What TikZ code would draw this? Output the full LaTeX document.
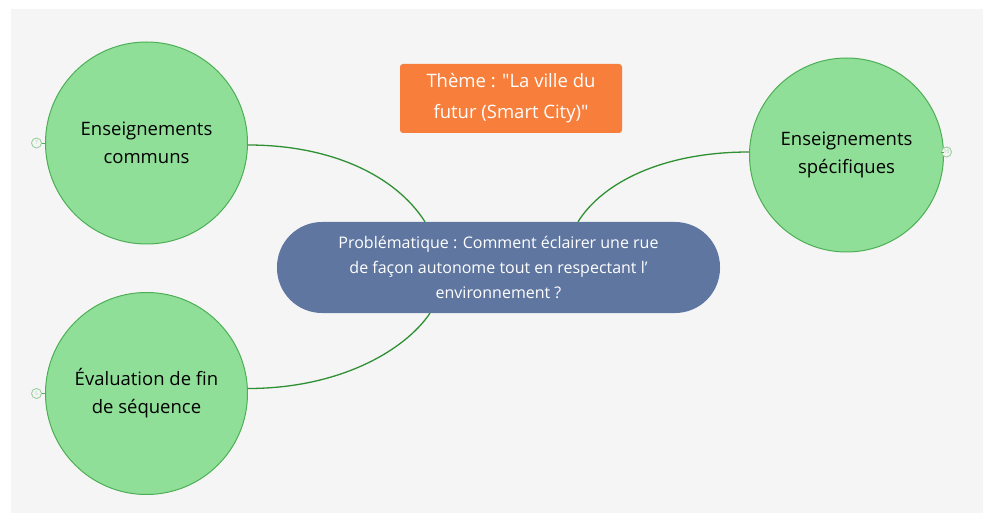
\documentclass[tikz,border=0pt]{standalone}
\usepackage{fontspec}
\setmainfont{Open Sans}
\usetikzlibrary{calc}
\definecolor{bggray}{HTML}{F5F5F5}
\definecolor{circfill}{HTML}{90DF98}
\definecolor{circline}{HTML}{4DAF55}
\definecolor{conn}{HTML}{2F8F33}
\definecolor{orangebox}{HTML}{F77E3B}
\definecolor{bluebox}{HTML}{5F76A1}
\definecolor{markline}{HTML}{9ACF9E}
\tikzset{
  topic/.style={circle, fill=circfill, draw=circline, line width=1pt, minimum size=202pt, inner sep=0pt, align=center, font=\fontsize{18.5}{28}\selectfont, text=black},
  connector/.style={draw=conn, line width=1.3pt},
  marker/.style={circle, draw=markline, fill=bggray, line width=0.9pt, minimum size=10pt, inner sep=0pt, font=\fontsize{5}{5}\selectfont, text=markline},
  markerline/.style={draw=circline, line width=0.8pt},
  themebox/.style={rectangle, rounded corners=3pt, fill=orangebox, minimum width=222pt, minimum height=69pt, align=center, text=white, font=\fontsize{18.5}{31}\selectfont},
  probbox/.style={rectangle, rounded corners=45pt, fill=bluebox, minimum width=443pt, minimum height=91pt, align=center, text=white, font=\fontsize{16}{25}\selectfont}
}
\begin{document}
\begin{tikzpicture}[x=1pt,y=-1pt]
\useasboundingbox (0,0) rectangle (983,513);
\fill[white] (0,0) rectangle (983,513);
\fill[bggray] (11,9) rectangle (983,513);

% central problem
\node[probbox] (prob) at (498.5,267.5) {Problématique : Comment éclairer une rue\\de façon autonome tout en respectant l'\\environnement ?};

% topics
\node[topic] (tl) at (146.5,143) {Enseignements\\communs};
\node[topic] (bl) at (146.5,393.5) {Évaluation de fin\\de séquence};
\node[topic, minimum size=194pt] (tr) at (846.5,155) {Enseignements\\spécifiques};

% theme
\node[themebox] (theme) at (511,98.5) {Thème : \textquotedbl La ville du\\futur (Smart City)\textquotedbl};

% connectors
\coordinate (pTL) at ([xshift=-73.5pt]prob.north);
\coordinate (pTR) at ([xshift=79.5pt]prob.north);
\coordinate (pBL) at ([xshift=-68.5pt]prob.south);
\coordinate (tlE) at ([yshift=-2pt]tl.east);
\coordinate (trW) at ([yshift=3pt]tr.west);
\coordinate (blE) at ([yshift=5pt]bl.east);
\draw[connector] (tlE) .. controls ($(tlE)+(82,0)$) and ($(pTL)+(-30,-47)$) .. (pTL);
\draw[connector] (trW) .. controls ($(trW)+(-85,0)$) and ($(pTR)+(25,-40)$) .. (pTR);
\draw[connector] (blE) .. controls ($(blE)+(92,0)$) and ($(pBL)+(-25,37)$) .. (pBL);

% markers
\node[marker] (m1) at (36.5,143) {7};
\node[marker] (m2) at (36.5,393.5) {5};
\node[marker] (m3) at (946.5,152) {10};
\draw[markerline] (m1) -- (tl.west);
\draw[markerline] (m2) -- (bl.west);
\draw[markerline] (m3) -- ([yshift=3pt]tr.east);
\end{tikzpicture}
\end{document}
